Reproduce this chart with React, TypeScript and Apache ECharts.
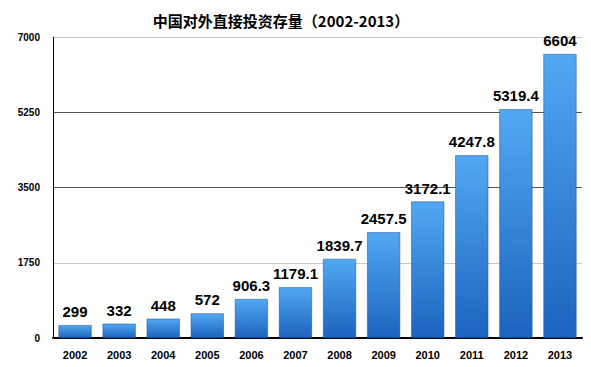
import React, { useEffect, useRef } from "react";
import * as echarts from "echarts";

const categories = ["2002", "2003", "2004", "2005", "2006", "2007", "2008", "2009", "2010", "2011", "2012", "2013"];
const values = [299, 332, 448, 572, 906.3, 1179.1, 1839.7, 2457.5, 3172.1, 4247.8, 5319.4, 6604];
const titleText = "中国对外直接投资存量（2002-2013）";

export default function App() {
  const ref = useRef<HTMLDivElement>(null);
  useEffect(() => {
    if (!ref.current) return;
    const chart = echarts.init(ref.current, null, { renderer: "svg" });
    chart.setOption({
      animation: false,
      backgroundColor: "#ffffff",
      title: {
        text: titleText,
        left: 276,
        textAlign: "center",
        top: 8,
        textStyle: { fontSize: 15, fontWeight: "bold", color: "#000", fontFamily: "Noto Sans CJK SC" },
      },
      grid: { left: 53, right: 9, top: 37, bottom: 29, containLabel: false },
      xAxis: {
        type: "category",
        data: categories,
        axisLine: { lineStyle: { color: "#000", width: 2 } },
        axisTick: { show: false },
        axisLabel: { color: "#000", fontWeight: "bold", fontSize: 11, fontFamily: "Arial, Liberation Sans", margin: 11 },
      },
      yAxis: {
        type: "value",
        min: 0,
        max: 7000,
        interval: 1750,
        axisLine: { show: true, lineStyle: { color: "#000", width: 1 } },
        axisTick: { show: false },
        axisLabel: {
          color: "#000",
          fontWeight: "bold",
          fontSize: 10,
          fontFamily: "Arial, Liberation Sans",
          margin: 13,
          formatter: (v: number) => String(v),
        },
        splitLine: { show: true, lineStyle: { color: ["#999", "#c8c8c8", "#555", "#555", "#c8c8c8"], width: 1 } },
      },
      series: [
        {
          type: "bar",
          data: values,
          barWidth: 33,
          itemStyle: {
            color: new echarts.graphic.LinearGradient(0, 0, 0, 1, [
              { offset: 0, color: "#52a8f2" },
              { offset: 1, color: "#1c63bf" },
            ]),
            borderColor: "#1a4f93",
            borderWidth: 0.5,
          },
          label: {
            show: true,
            position: "top",
            distance: 6,
            color: "#000",
            fontWeight: "bold",
            fontSize: 15,
            fontFamily: "Arial, Liberation Sans",
          },
        },
      ],
    });
    return () => chart.dispose();
  }, []);
  return <div ref={ref} style={{ width: 591, height: 367, position: "absolute", left: 0, top: 0 }} />;
}
